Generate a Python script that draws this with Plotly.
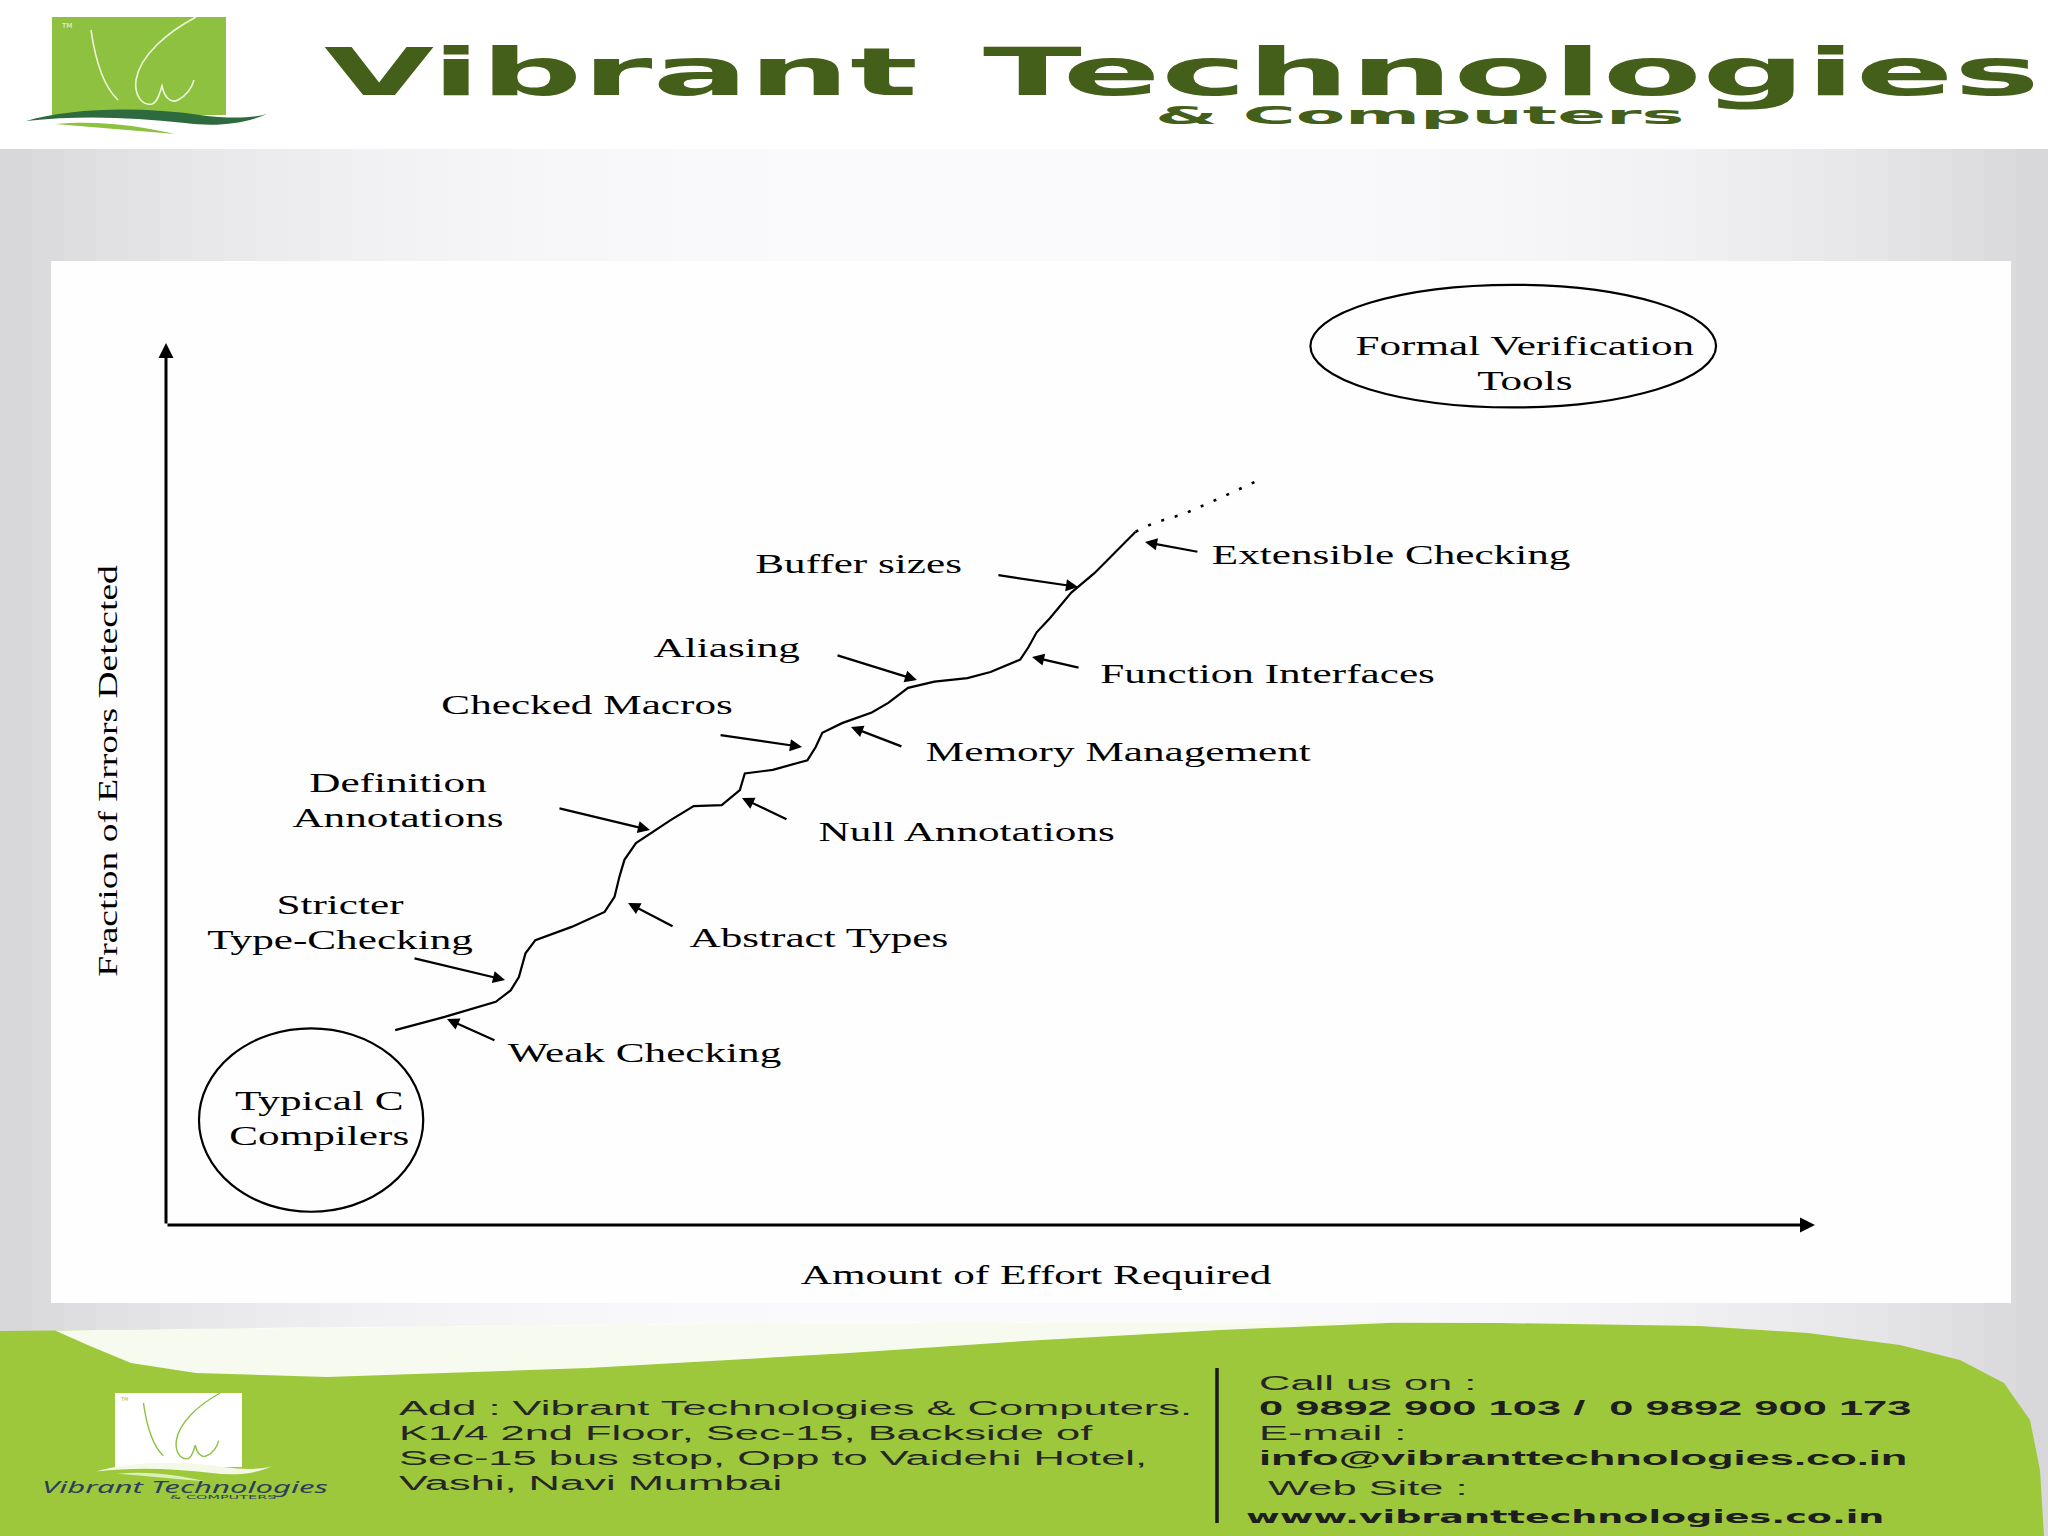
import json
import re
import plotly.graph_objects as go

# ---------------- diagram data (effort / fraction units, 0-100) ----------------
curve_effort = [13.9, 16.9, 20.0, 20.9, 21.4, 21.8, 22.4, 24.6, 26.6, 27.2, 27.5, 27.8, 28.5,
                29.4, 30.6, 32.0, 33.7, 34.8, 35.1, 36.8, 38.9, 39.4, 39.8, 41.0, 42.8, 43.8,
                45.0, 46.6, 48.6, 50.0, 51.8, 52.3, 52.8, 53.6, 54.9, 56.3, 57.7, 58.8]
curve_fraction = [22.1, 23.6, 25.3, 26.6, 28.1, 30.8, 32.3, 33.8, 35.5, 37.2, 39.5, 41.4, 43.3,
                  44.4, 45.9, 47.5, 47.6, 49.3, 51.2, 51.6, 52.7, 54.2, 55.8, 56.9, 58.1, 59.2,
                  60.9, 61.6, 62.0, 62.7, 64.1, 65.5, 67.2, 68.8, 71.7, 73.9, 76.5, 78.6]
future_effort = [58.8, 59.9, 61.7, 63.9, 66.2]
future_fraction = [78.6, 79.6, 80.6, 82.4, 84.4]

techniques = ["Weak Checking", "Stricter<br>Type-Checking", "Abstract Types",
              "Definition<br>Annotations", "Null Annotations", "Checked Macros",
              "Memory Management", "Aliasing", "Function Interfaces", "Buffer sizes",
              "Extensible Checking"]
label_effort = [28.99, 10.55, 39.57, 14.07, 48.54, 25.56, 57.79, 34.05, 66.77, 41.97, 74.29]
label_fraction = [19.50, 34.35, 32.54, 48.13, 44.56, 58.96, 53.63, 65.42, 62.47, 74.94, 75.96]
arrow_from_effort = [20.01, 14.98, 30.81, 23.77, 37.72, 33.54, 44.69, 40.63, 55.43, 50.39, 62.64]
arrow_from_fraction = [20.86, 30.27, 33.79, 47.28, 45.92, 55.56, 54.20, 64.63, 63.15, 73.70, 76.30]
arrow_to_effort = [17.04, 20.56, 28.02, 29.35, 34.93, 38.57, 41.54, 45.54, 52.52, 55.31, 59.37]
arrow_to_fraction = [23.36, 27.78, 36.51, 44.78, 48.41, 54.20, 56.46, 61.79, 64.40, 72.34, 77.44]

regions = ["Typical C<br>Compilers", "Formal Verification<br>Tools"]
region_effort_min = [2.0, 69.4]
region_effort_max = [15.6, 94.0]
region_fraction_min = [1.5, 92.7]
region_fraction_max = [22.3, 106.6]
region_label_effort = [9.28, 82.41]
region_label_fraction = [12.02, 97.68]

x_title = "Amount of Effort Required"
y_title = "Fraction of Errors Detected"

header_words = ["Vibrant", "Technologies"]
header_sub = "& Computers"
address_lines = ["Add : Vibrant Technologies & Computers.",
                 "K1/4 2nd Floor, Sec-15, Backside of",
                 "Sec-15 bus stop, Opp to Vaidehi Hotel,",
                 "Vashi, Navi Mumbai"]
contact_lines = ["Call us on :", "0 9892 900 103 /  0 9892 900 173", "E-mail :",
                 "info@vibranttechnologies.co.in", "Web Site :", "www.vibranttechnologies.co.in"]
footer_brand = "Vibrant Technologies"

# ---------------- page geometry (pixels) ----------------
W, H = 2048, 1536
ORIG = (166, 1225)          # axis origin
XTIP, YTIP = 1815, 343      # arrow tips (effort = 100, fraction = 100)
PANEL = (51, 261, 2011, 1303)
ux = (XTIP - ORIG[0]) / 100.0
uy = (ORIG[1] - YTIP) / 100.0
x_range = [(PANEL[0] - ORIG[0]) / ux, (PANEL[2] - ORIG[0]) / ux]
y_range = [(ORIG[1] - PANEL[3]) / uy, (ORIG[1] - PANEL[1]) / uy]


def px(x):
    return x / W


def py(y):
    return 1 - y / H


def ppath(d, tf=None):
    toks = re.findall(r"[MLCQZ]|-?\d+\.?\d*", d)
    out, nums = [], []
    for t in toks:
        if t.isalpha():
            out.append(t)
        else:
            nums.append(float(t))
            if len(nums) == 2:
                x, y = nums
                if tf:
                    x, y = tf(x, y)
                out.append(f"{px(x):.5f},{py(y):.5f}")
                nums = []
    return " ".join(out)


def poly(points):
    return "M " + " L ".join(f"{px(x):.5f},{py(y):.5f}" for x, y in points) + " Z"


shapes = []
anns = []
stretch = {}


def rect(x0, y0, x1, y1, color, layer="below"):
    shapes.append(dict(type="rect", xref="paper", yref="paper", x0=px(x0), x1=px(x1),
                       y0=py(y1), y1=py(y0), fillcolor=color, line=dict(width=0), layer=layer))


def note(text, x, y, size, family, color, ref="paper", xanchor="center", yanchor="middle",
         align="center", weight=None, style=None, s=1.0, angle=0):
    font = dict(family=family, size=size, color=color)
    if weight:
        font["weight"] = weight
    if style:
        font["style"] = style
    d = dict(text=text, showarrow=False, xanchor=xanchor, yanchor=yanchor, align=align,
             font=font, textangle=angle, borderpad=0, borderwidth=0)
    if ref == "paper":
        d.update(xref="paper", yref="paper", x=px(x), y=py(y))
    else:
        d.update(xref="x", yref="y", x=x, y=y)
    anns.append(d)
    if s != 1.0:
        stretch[len(anns) - 1] = s


# ---------------- background ----------------
N = 64
for i in range(N):
    xc = (i + 0.5) * W / N
    t = abs(xc - W / 2) / (W / 2)
    v = round(250 - 36 * t ** 3)
    rect(i * W / N, 149, (i + 1) * W / N + 0.6, H, f"rgb({v},{v},{min(255, v + 2)})")
rect(PANEL[0], PANEL[1], PANEL[2], PANEL[3], "#fefefe")

# footer green band
green_top = [(0, 1331), (300, 1328), (700, 1324), (1100, 1322), (1500, 1323), (1700, 1326),
             (1808, 1333), (1900, 1345), (1960, 1360), (2004, 1383), (2030, 1420),
             (2040, 1470), (2044, 1536), (0, 1536)]
shapes.append(dict(type="path", xref="paper", yref="paper", path=poly(green_top),
                   fillcolor="#9dc83c", line=dict(width=0), layer="below"))
swoosh = [(55, 1330.5), (300, 1327.5), (700, 1323.5), (1100, 1321.5), (1400, 1322.5),
          (1220, 1330), (1024, 1341), (849, 1353), (588, 1368), (327, 1377), (196, 1373),
          (131, 1363), (90, 1346)]
shapes.append(dict(type="path", xref="paper", yref="paper", path=poly(swoosh),
                   fillcolor="rgba(255,255,255,0.92)", line=dict(width=0), layer="below"))
# separator in footer
shapes.append(dict(type="line", xref="paper", yref="paper", x0=px(1217), x1=px(1217),
                   y0=py(1523), y1=py(1368), line=dict(color="#1a1a1a", width=3.5), layer="below"))

# logos
LOGO_V = ["M 91 30 C 95 58 103 86 118 100",
          "M 196 17 C 168 32 140 55 136 80 C 134 95 142 106 152 104 C 158 102 160 92 162 86 "
          "C 164 96 170 104 178 100 C 186 96 192 88 194 80"]
WAVE_DARK = "M 26 121 C 70 108 140 106 200 115 C 230 119 252 118 267 114 C 245 124 215 127 185 123 C 130 117 80 115 26 121 Z"
WAVE_LIGHT = "M 55 124 C 100 120 140 126 175 134 C 135 131 95 127 55 124 Z"


def foot_tf(x, y):
    return 115 + (x - 52) * 127 / 174, 1393 + (y - 17) * 74 / 98


rect(52, 17, 226, 115, "#8dc13f")
for d in LOGO_V:
    shapes.append(dict(type="path", xref="paper", yref="paper", path=ppath(d),
                       line=dict(color="#eef7dc", width=1.6), layer="below"))
shapes.append(dict(type="path", xref="paper", yref="paper", path=ppath(WAVE_DARK),
                   fillcolor="#2d6a3e", line=dict(width=0), layer="below"))
shapes.append(dict(type="path", xref="paper", yref="paper", path=ppath(WAVE_LIGHT),
                   fillcolor="#8dc13f", line=dict(width=0), layer="below"))
note("TM", 66, 26, 7, "DejaVu Sans", "#f4f9e8")

rect(115, 1393, 242, 1467, "#ffffff")
for d in LOGO_V:
    shapes.append(dict(type="path", xref="paper", yref="paper", path=ppath(d, foot_tf),
                       line=dict(color="#8dc13f", width=1.4), layer="below"))
shapes.append(dict(type="path", xref="paper", yref="paper", path=ppath(WAVE_DARK, foot_tf),
                   fillcolor="#f3f9e6", line=dict(width=0), layer="below"))
shapes.append(dict(type="path", xref="paper", yref="paper", path=ppath(WAVE_LIGHT, foot_tf),
                   fillcolor="#dcefb8", line=dict(width=0), layer="below"))
note("TM", 124, 1399, 5, "DejaVu Sans", "#8dc13f")

# ---------------- header / footer text ----------------
HDR = "#445f19"
note(header_words[0], 324, 72.5, 65, "DejaVu Sans", HDR, xanchor="left", align="left", weight=700, s=2.19)
note(header_words[1], 983, 72.5, 65, "DejaVu Sans", HDR, xanchor="left", align="left", weight=700, s=2.23)
note(header_sub, 1155, 115.3, 25, "DejaVu Sans", HDR, xanchor="left", align="left", weight=700, s=2.88)

FT = "#262626"
addr_y = [1407.7, 1432.7, 1457.7, 1482.7]
for line, yy in zip(address_lines, addr_y):
    note(line, 399, yy, 21, "Liberation Sans", FT, xanchor="left", align="left", s=2.07)
contact_x = [1259, 1259, 1259, 1259, 1268, 1246]
contact_y = [1382.7, 1407.7, 1432.7, 1457.5, 1487.7, 1516.8]
contact_bold = [False, True, False, True, False, True]
for k, (line, xx, yy, b) in enumerate(zip(contact_lines, contact_x, contact_y, contact_bold)):
    if k == 5:
        note(line, xx, yy, 18, "DejaVu Sans", "#1e1e1e", xanchor="left", align="left", weight=700, s=2.03)
    else:
        note(line, xx, yy, 21, "Liberation Sans", "#1e1e1e" if b else FT, xanchor="left",
             align="left", weight=700 if b else None, s=2.07)
note(footer_brand, 42, 1486, 17, "Noto Sans", "#2c3e5c", xanchor="left", align="left", style="italic", s=1.83)
note("& COMPUTERS", 170, 1497, 5, "DejaVu Sans", "#2c3e5c", xanchor="left", align="left", s=2.9)

# ---------------- diagram ----------------
SERIF = "Liberation Serif"
fig = go.Figure()
fig.add_trace(go.Scatter(x=curve_effort, y=curve_fraction, mode="lines",
                         line=dict(color="black", width=2.2), hoverinfo="skip", showlegend=False))
fig.add_trace(go.Scatter(x=future_effort, y=future_fraction, mode="lines",
                         line=dict(color="black", width=2.6, dash="3px,11px"), hoverinfo="skip",
                         showlegend=False))

# axes with arrow heads
for hx, hy in [(100, 0), (0, 100)]:
    anns.append(dict(x=hx, y=hy, ax=0, ay=0, xref="x", yref="y", axref="x", ayref="y", text="",
                     showarrow=True, arrowhead=2, arrowsize=1.0, arrowwidth=3, arrowcolor="black",
                     standoff=0, startstandoff=0))

for i, name in enumerate(techniques):
    anns.append(dict(x=arrow_to_effort[i], y=arrow_to_fraction[i], ax=arrow_from_effort[i],
                     ay=arrow_from_fraction[i], xref="x", yref="y", axref="x", ayref="y", text="",
                     showarrow=True, arrowhead=2, arrowsize=1.1, arrowwidth=2.2, arrowcolor="black",
                     standoff=0, startstandoff=0))
    note(name, label_effort[i], label_fraction[i], 27, SERIF, "black", ref="data", s=1.6)

for i, name in enumerate(regions):
    shapes.append(dict(type="circle", xref="x", yref="y", x0=region_effort_min[i],
                       x1=region_effort_max[i], y0=region_fraction_min[i],
                       y1=region_fraction_max[i], line=dict(color="black", width=2.2),
                       layer="above"))
    note(name, region_label_effort[i], region_label_fraction[i], 27, SERIF, "black", ref="data", s=1.6)

note(x_title, (1036 - ORIG[0]) / ux, (ORIG[1] - 1275) / uy, 27, SERIF, "black", ref="data", s=1.6)
note(y_title, (108 - ORIG[0]) / ux, (ORIG[1] - 771) / uy, 27, SERIF, "black", ref="data", s=1.39, angle=-90)

fig.update_layout(
    width=W, height=H, margin=dict(l=0, r=0, t=0, b=0, pad=0),
    template="none", paper_bgcolor="white", plot_bgcolor="rgba(0,0,0,0)",
    showlegend=False, hovermode=False,
    xaxis=dict(domain=[PANEL[0] / W, PANEL[2] / W], range=x_range, visible=False, fixedrange=True),
    yaxis=dict(domain=[1 - PANEL[3] / H, 1 - PANEL[1] / H], range=y_range, visible=False, fixedrange=True),
    shapes=shapes, annotations=anns,
)

js = """
document.body.style.margin = '0';
document.body.style.overflow = 'hidden';
var S = %s;
var gd = document.getElementById('{plot_id}');
gd.querySelectorAll('g.annotation').forEach(function(g){
  var s = S[g.getAttribute('data-index')];
  if(!s) return;
  var t = g.querySelector('text.annotation-text');
  if(!t) return;
  var x = parseFloat(t.getAttribute('x'));
  if(isNaN(x)){ var ln = t.querySelector('tspan.line'); x = ln ? parseFloat(ln.getAttribute('x')) : 0; }
  t.setAttribute('transform', 'matrix(' + s + ',0,0,1,' + (x * (1 - s)) + ',0)');
});
""" % json.dumps(stretch)

fig.write_html("out.html", config={"displayModeBar": False, "staticPlot": True}, post_script=js)
